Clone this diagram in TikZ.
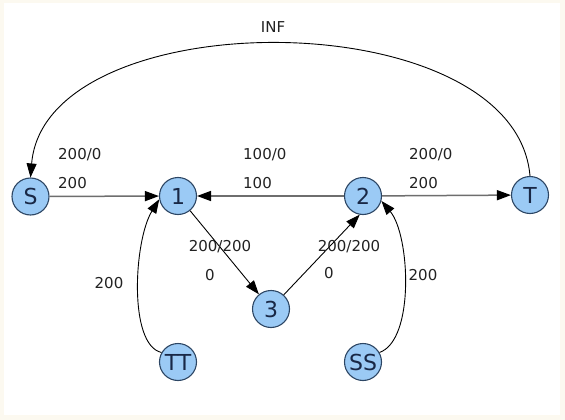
\documentclass[tikz,border=0pt]{standalone}
\usepackage{fontspec}
\setmainfont{DejaVu Sans}
\usetikzlibrary{arrows.meta}
\definecolor{nodefill}{RGB}{155,202,245}
\definecolor{nodedraw}{RGB}{45,70,100}
\definecolor{nodetext}{RGB}{25,40,70}
\definecolor{labeltext}{RGB}{34,34,34}
\definecolor{edgegray}{RGB}{110,110,110}
\definecolor{creamedge}{RGB}{252,249,240}
\begin{document}
\begin{tikzpicture}[x=1pt,y=-1pt,
  vtx/.style={circle,draw=nodedraw,line width=1.1pt,fill=nodefill,minimum size=37pt,inner sep=0pt,text=nodetext,font=\fontsize{22}{22}\selectfont},
  lbl/.style={text=labeltext,font=\fontsize{15}{15}\selectfont,inner sep=0pt},
  heavyedge/.style={draw=edgegray,line width=1.5pt,-{Triangle[length=14pt,width=10pt,color=black]}},
  lightedge/.style={draw=black,line width=0.9pt,-{Triangle[length=14pt,width=10pt]}}]
\useasboundingbox (0,0) rectangle (565,420);
\fill[creamedge] (0,0) rectangle (565,420);
\fill[white] (4,3) rectangle (560,415);

\node[vtx] (S) at (30.5,196.5) {S};
\node[vtx] (n1) at (178,196) {1};
\node[vtx] (n2) at (363,196) {2};
\node[vtx] (T) at (530,195) {T};
\node[vtx] (n3) at (271,309) {3};
\node[vtx] (TT) at (178,362) {TT};
\node[vtx] (SS) at (363,362) {SS};

\draw[heavyedge] (S) -- (n1);
\draw[heavyedge] (n2) -- (n1);
\draw[heavyedge] (n2) -- (T);
\draw[lightedge] (n1) -- (n3);
\draw[lightedge] (n3.48) -- (n2.-100);
\draw[lightedge] (TT.150) .. controls (128,345) and (134,240) .. (n1.190);
\draw[lightedge] (SS.30) .. controls (415,340) and (410,235) .. (n2.-15);
\draw[lightedge] (T.north) .. controls (515,0) and (45,0) .. (S.north);

\node[lbl] (inf) at (273,27) {INF};
\node[lbl,anchor=west] (la) at (58,155) {200/0};
\node[lbl,anchor=west] (lb) at (58,183) {200};
\node[lbl,anchor=west] (lc) at (243,155) {100/0};
\node[lbl,anchor=west] (ld) at (243,183) {100};
\node[lbl,anchor=west] (le) at (409,155) {200/0};
\node[lbl,anchor=west] (lf) at (409,183) {200};
\node[lbl] (lg) at (220,247) {200/200};
\node[lbl] (lh) at (210,275) {0};
\node[lbl] (li) at (349,247) {200/200};
\node[lbl] (lj) at (329,273) {0};
\node[lbl] (lk) at (109,283) {200};
\node[lbl] (ll) at (423,275) {200};
\end{tikzpicture}
\end{document}
